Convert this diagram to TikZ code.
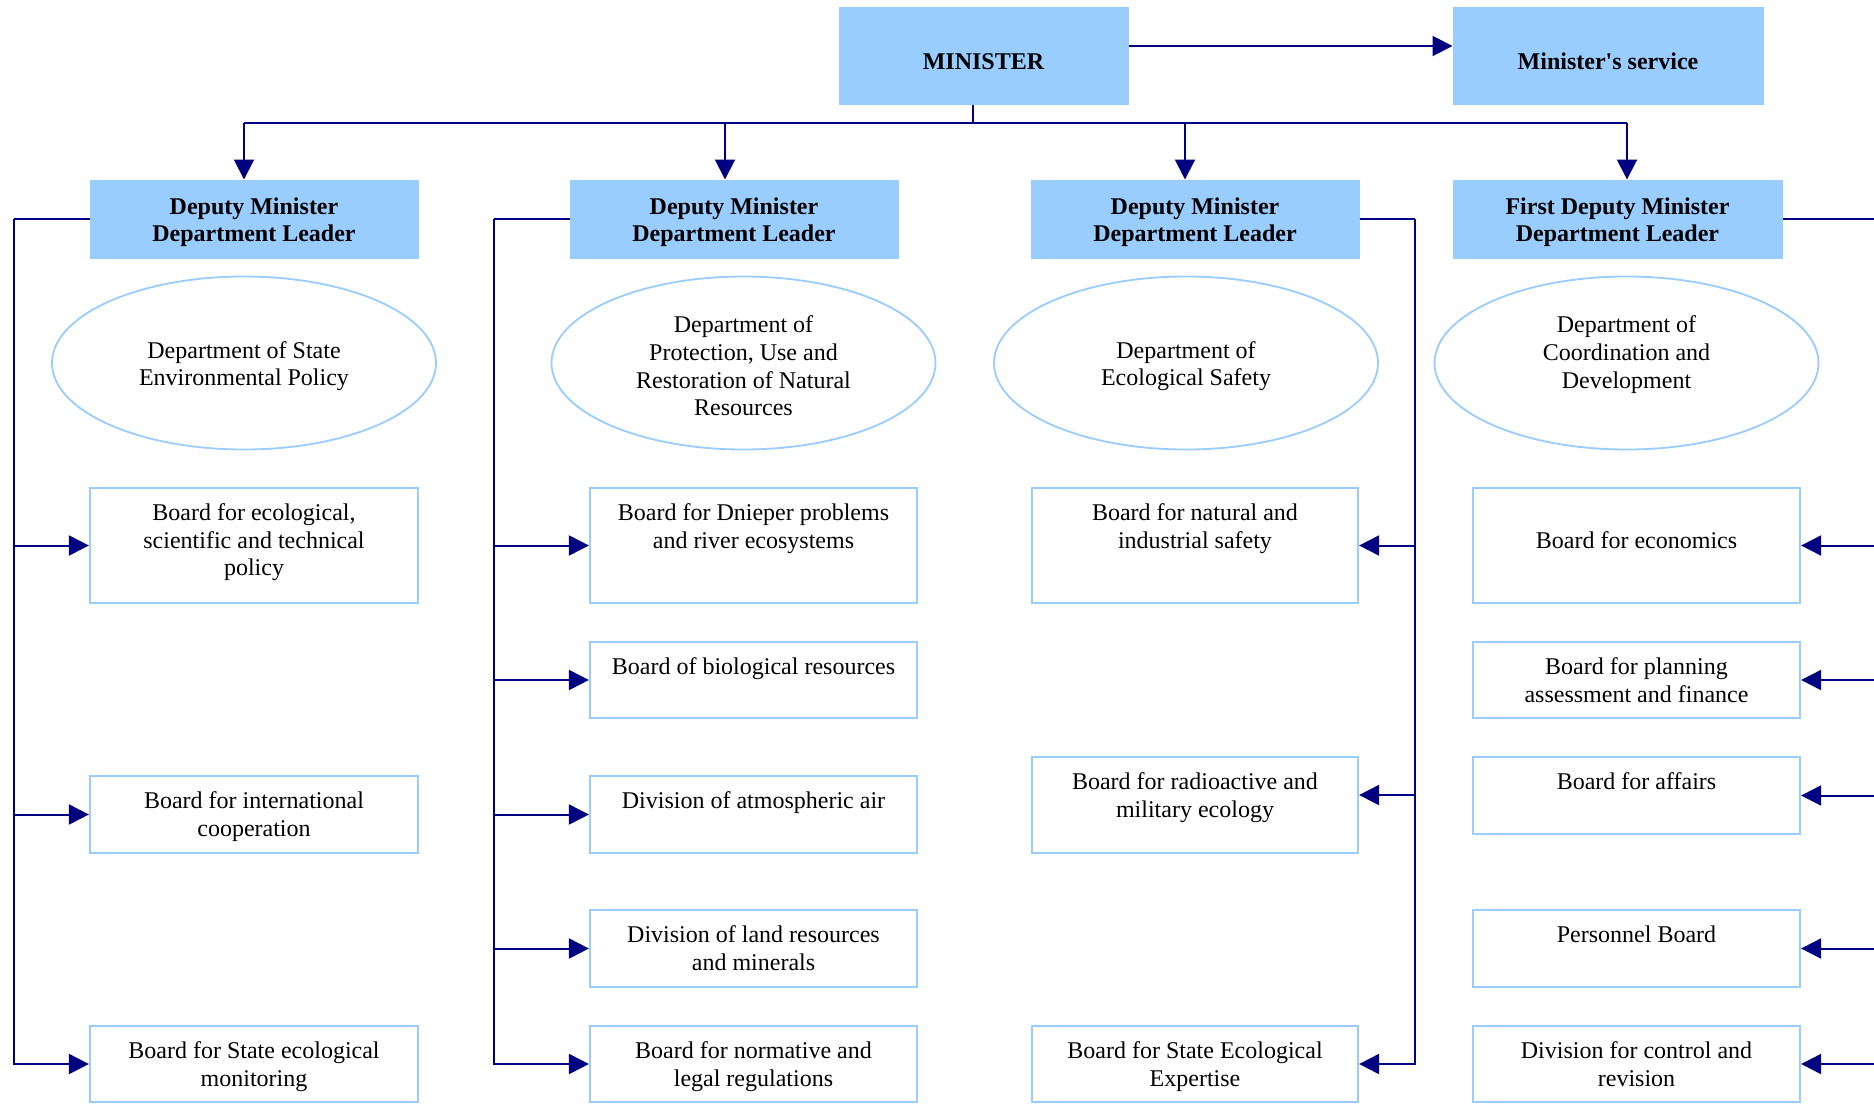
\documentclass[tikz,border=0pt]{standalone}
\usepackage{fontspec}
\setmainfont{Liberation Serif}
\usetikzlibrary{arrows.meta,shapes.geometric}
\definecolor{lb}{HTML}{99CCFF}
\definecolor{nv}{HTML}{000080}
\begin{document}
\begin{tikzpicture}[x=0.5pt,y=-0.5pt,
  bluebox/.style={rectangle,fill=lb,draw=lb,line width=0.5pt,inner sep=0pt},
  board/.style={rectangle,draw=lb,line width=1.1pt,fill=white,inner sep=0pt},
  dept/.style={ellipse,draw=lb,line width=0.9pt,inner sep=0pt,minimum width=192pt,minimum height=86.5pt},
  txt/.style={inner sep=0pt,align=center,font=\fontsize{12}{13.8}\selectfont},
  btxt/.style={inner sep=0pt,align=center,font=\fontsize{12}{13.6}\selectfont\bfseries},
  conn/.style={draw=nv,line width=1pt},
  arr/.style={conn,-{Triangle[length=10pt,width=10pt]}},
  c1/.style={board,minimum width=164pt},
  c2/.style={board,minimum width=163.5pt},
  c3/.style={board,minimum width=163pt},
  c4/.style={board,minimum width=163.5pt},
]
\fill[white] (0,0) rectangle (1874,1103);
\useasboundingbox (0,0) rectangle (1874,1103);

% top level
\node[bluebox,minimum width=144.5pt,minimum height=48.5pt] (min) at (983.5,55.5) {};
\node[btxt] (tmin) at ([yshift=-3pt]min.center) {MINISTER};
\node[bluebox,minimum width=155pt,minimum height=48.5pt] (svc) at (1608,55.5) {};
\node[btxt] (tsvc) at ([yshift=-3pt]svc.center) {Minister\textquotesingle s service};
\draw[arr] ([yshift=4.75pt]min.east) -- ([yshift=4.75pt]svc.west);

\coordinate (j0) at (973,123);
\coordinate (b1) at (244,123);
\coordinate (b2) at (725,123);
\coordinate (b3) at (1185,123);
\coordinate (b4) at (1627,123);
\draw[conn] ([xshift=-5.25pt]min.south) -- (j0);
\draw[conn] (b1) -- (b4);

% deputies
\node[bluebox,minimum width=164pt,minimum height=39pt] (d1) at (254,219) {};
\node[bluebox,minimum width=164pt,minimum height=39pt] (d2) at (734,219) {};
\node[bluebox,minimum width=164pt,minimum height=39pt] (d3) at (1195,219) {};
\node[bluebox,minimum width=164.5pt,minimum height=39pt] (d4) at (1617.5,219) {};
\node[btxt] (td1) at ([yshift=-1.5pt]d1.center) {Deputy Minister\\Department Leader};
\node[btxt] (td2) at ([yshift=-1.5pt]d2.center) {Deputy Minister\\Department Leader};
\node[btxt] (td3) at ([yshift=-1.5pt]d3.center) {Deputy Minister\\Department Leader};
\node[btxt] (td4) at ([yshift=-1.5pt]d4.center) {First Deputy Minister\\Department Leader};
\draw[arr] (b1) -- (b1 |- d1.north);
\draw[arr] (b2) -- (b2 |- d2.north);
\draw[arr] (b3) -- (b3 |- d3.north);
\draw[arr] (b4) -- (b4 |- d4.north);

% departments
\node[dept] (e1) at (244,363) {};
\node[dept] (e2) at (743.5,363) {};
\node[dept] (e3) at (1186,363) {};
\node[dept] (e4) at (1626.5,363) {};
\node[txt] (te1) at ([yshift=-1.5pt]e1.center) {Department of State\\Environmental Policy};
\node[txt] (te2) at ([yshift=-1.5pt]e2.center) {Department of\\Protection, Use and\\Restoration of Natural\\Resources};
\node[txt] (te3) at ([yshift=-1.5pt]e3.center) {Department of\\Ecological Safety};
\node[txt,anchor=north] (te4) at (te2.north -| e4.center) {Department of\\Coordination and\\Development};

% column 1
\node[c1,minimum height=57.5pt] (c1a) at (254,545.5) {};
\node[c1,minimum height=38.5pt] (c1b) at (254,814.5) {};
\node[c1,minimum height=38pt] (c1c) at (254,1064) {};
\node[txt,anchor=north] (tc1a) at ([yshift=-8.25pt]c1a.north) {Board for ecological,\\scientific and technical\\policy};
\node[txt,anchor=north] (tc1b) at ([yshift=-8.25pt]c1b.north) {Board for international\\cooperation};
\node[txt,anchor=north] (tc1c) at ([yshift=-8.25pt]c1c.north) {Board for State ecological\\monitoring};
\coordinate (l1) at (14,219);
\draw[conn] (d1.west) -- (l1);
\draw[arr] (l1) |- (c1c.west);
\draw[arr] (l1 |- c1a.west) -- (c1a.west);
\draw[arr] (l1 |- c1b.west) -- (c1b.west);

% column 2
\node[c2,minimum height=57.5pt] (c2a) at (753.5,545.5) {};
\node[c2,minimum height=38pt] (c2b) at (753.5,680) {};
\node[c2,minimum height=38.5pt] (c2c) at (753.5,814.5) {};
\node[c2,minimum height=38.5pt] (c2d) at (753.5,948.5) {};
\node[c2,minimum height=38pt] (c2e) at (753.5,1064) {};
\node[txt,anchor=north] (tc2a) at ([yshift=-8.25pt]c2a.north) {Board for Dnieper problems\\and river ecosystems};
\node[txt,anchor=north] (tc2b) at ([yshift=-8.25pt]c2b.north) {Board of biological resources};
\node[txt,anchor=north] (tc2c) at ([yshift=-8.25pt]c2c.north) {Division of atmospheric air};
\node[txt,anchor=north] (tc2d) at ([yshift=-8.25pt]c2d.north) {Division of land resources\\and minerals};
\node[txt,anchor=north] (tc2e) at ([yshift=-8.25pt]c2e.north) {Board for normative and\\legal regulations};
\coordinate (l2) at (494,219);
\draw[conn] (d2.west) -- (l2);
\draw[arr] (l2) |- (c2e.west);
\draw[arr] (l2 |- c2a.west) -- (c2a.west);
\draw[arr] (l2 |- c2b.west) -- (c2b.west);
\draw[arr] (l2 |- c2c.west) -- (c2c.west);
\draw[arr] (l2 |- c2d.west) -- (c2d.west);

% column 3
\node[c3,minimum height=57.5pt] (c3a) at (1195,545.5) {};
\node[c3,minimum height=48pt] (c3b) at (1195,805) {};
\node[c3,minimum height=38pt] (c3c) at (1195,1064) {};
\node[txt,anchor=north] (tc3a) at ([yshift=-8.25pt]c3a.north) {Board for natural and\\industrial safety};
\node[txt,anchor=north] (tc3b) at ([yshift=-8.25pt]c3b.north) {Board for radioactive and\\military ecology};
\node[txt,anchor=north] (tc3c) at ([yshift=-8.25pt]c3c.north) {Board for State Ecological\\Expertise};
\coordinate (l3) at (1415,219);
\coordinate (c3bp) at ([yshift=5pt]c3b.east);
\draw[conn] (d3.east) -- (l3);
\draw[arr] (l3) |- (c3c.east);
\draw[arr] (l3 |- c3a.east) -- (c3a.east);
\draw[arr] (l3 |- c3bp) -- (c3bp);

% column 4
\node[c4,minimum height=57.5pt] (c4a) at (1636.5,545.5) {};
\node[c4,minimum height=38pt] (c4b) at (1636.5,680) {};
\node[c4,minimum height=38.5pt] (c4c) at (1636.5,795.5) {};
\node[c4,minimum height=38.5pt] (c4d) at (1636.5,948.5) {};
\node[c4,minimum height=38pt] (c4e) at (1636.5,1064) {};
\node[txt,anchor=north] (tc4a) at ([yshift=-22.05pt]c4a.north) {Board for economics};
\node[txt,anchor=north] (tc4b) at ([yshift=-8.25pt]c4b.north) {Board for planning\\assessment and finance};
\node[txt,anchor=north] (tc4c) at ([yshift=-8.25pt]c4c.north) {Board for affairs};
\node[txt,anchor=north] (tc4d) at ([yshift=-8.25pt]c4d.north) {Personnel Board};
\node[txt,anchor=north] (tc4e) at ([yshift=-8.25pt]c4e.north) {Division for control and\\revision};
\coordinate (r4) at (1874,219);
\draw[conn] (d4.east) -- (r4);
\draw[arr] (r4 |- c4a.east) -- (c4a.east);
\draw[arr] (r4 |- c4b.east) -- (c4b.east);
\draw[arr] (r4 |- c4c.east) -- (c4c.east);
\draw[arr] (r4 |- c4d.east) -- (c4d.east);
\draw[arr] (r4 |- c4e.east) -- (c4e.east);
\end{tikzpicture}
\end{document}
